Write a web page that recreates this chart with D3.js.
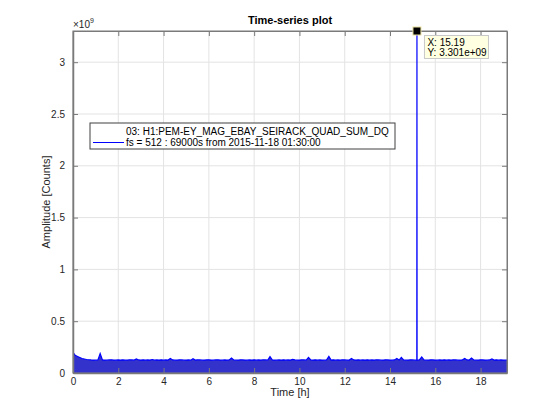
<!DOCTYPE html>
<html>
<head>
<meta charset="utf-8">
<script src="https://cdn.jsdelivr.net/npm/d3@7"></script>
<style>
  body { margin: 0; background: #fff; }
  svg { font-family: "Liberation Sans", Arial, sans-serif; }
</style>
</head>
<body>
<svg id="chart" width="560" height="420"></svg>
<script>
// amplitude envelope, units of 1e9 counts, one value every 0.1 h
const sampleStep = 0.1;
const envelope = [
  0.20,0.17,0.16,0.15,0.14,0.135,0.13,0.128,0.126,0.125,
  0.124,0.126,0.187,0.127,0.125,0.124,0.126,0.128,0.125,0.124,
  0.126,0.125,0.127,0.124,0.125,0.128,0.126,0.124,0.135,0.126,
  0.125,0.127,0.124,0.126,0.125,0.13,0.124,0.126,0.125,0.127,
  0.124,0.126,0.125,0.14,0.126,0.124,0.125,0.127,0.126,0.124,
  0.125,0.126,0.124,0.138,0.125,0.127,0.126,0.124,0.125,0.126,
  0.127,0.125,0.124,0.126,0.128,0.125,0.124,0.126,0.125,0.127,
  0.145,0.126,0.124,0.125,0.127,0.126,0.125,0.124,0.126,0.125,
  0.127,0.124,0.126,0.125,0.128,0.126,0.124,0.158,0.126,0.125,
  0.124,0.126,0.125,0.127,0.124,0.126,0.125,0.132,0.126,0.124,
  0.125,0.127,0.126,0.124,0.15,0.126,0.125,0.127,0.124,0.126,
  0.125,0.124,0.126,0.16,0.125,0.127,0.124,0.126,0.125,0.128,
  0.126,0.124,0.125,0.14,0.126,0.125,0.127,0.124,0.126,0.125,
  0.127,0.124,0.126,0.125,0.128,0.126,0.124,0.125,0.127,0.126,
  0.125,0.124,0.126,0.14,0.125,0.15,0.126,0.124,0.125,0.127,
  0.126,0.124,0.125,0.127,0.155,0.126,0.124,0.125,0.127,0.126,
  0.125,0.124,0.126,0.125,0.127,0.124,0.126,0.125,0.128,0.126,
  0.124,0.125,0.127,0.14,0.126,0.125,0.145,0.126,0.124,0.125,
  0.127,0.126,0.125,0.124,0.126,0.135,0.125,0.127,0.124,0.126,
  0.125,0.124,0.125
];
const spikeTimes = [15.185, 15.19, 15.195];
const spikeValues = [0.125, 3.301, 0.125];
const xTicks = [0, 2, 4, 6, 8, 10, 12, 14, 16, 18];
const yTicks = [0, 0.5, 1, 1.5, 2, 2.5, 3];
const durationHours = 69000 / 3600;
const yMax = 3.301;
const legendLines = ["03: H1:PEM-EY_MAG_EBAY_SEIRACK_QUAD_SUM_DQ", "fs = 512 : 69000s from 2015-11-18 01:30:00"];
const tipLines = ["X: 15.19", "Y: 3.301e+09"];

const margin = { top: 31, right: 53, bottom: 47, left: 73 },
    width = 560 - margin.left - margin.right,
    height = 420 - margin.top - margin.bottom;

const axisColor = "#7a7a7a", textColor = "#262626", lineColor = "#0000ff";

const svg = d3.select("#chart");
const g = svg.append("g").attr("transform", "translate(" + margin.left + "," + margin.top + ")");

const x = d3.scaleLinear().domain([0, durationHours]).range([0, width]);
const y = d3.scaleLinear().domain([0, yMax]).range([height, 0]);

// merge envelope and spike into one series
let series = envelope.map((v, i) => ({ t: i * sampleStep, v: v }))
    .filter(d => d.t < spikeTimes[0] || d.t > spikeTimes[spikeTimes.length - 1]);
spikeTimes.forEach((t, i) => series.push({ t: t, v: spikeValues[i] }));
series.sort((a, b) => a.t - b.t);

g.append("clipPath").attr("id", "clip")
    .append("rect").attr("width", width).attr("height", height);

// grid
g.append("g").selectAll("line").data(xTicks).enter().append("line")
    .attr("x1", d => x(d)).attr("x2", d => x(d))
    .attr("y1", 0).attr("y2", height)
    .attr("stroke", "#e3e3e3").attr("stroke-width", 1);
g.append("g").selectAll("line").data(yTicks).enter().append("line")
    .attr("x1", 0).attr("x2", width)
    .attr("y1", d => y(d)).attr("y2", d => y(d))
    .attr("stroke", "#e3e3e3").attr("stroke-width", 1);

// data
const plot = g.append("g").attr("clip-path", "url(#clip)");
plot.append("path")
    .datum(series)
    .attr("fill", "#3333cc")
    .attr("d", d3.area().x(d => x(d.t)).y0(y(0)).y1(d => y(d.v)));
plot.append("path")
    .datum(series)
    .attr("fill", "none")
    .attr("stroke", lineColor)
    .attr("stroke-width", 1.2)
    .attr("d", d3.line().x(d => x(d.t)).y(d => y(d.v)));

// axes: box with inward ticks
const xAxis = d3.axisBottom(x).tickValues(xTicks).tickSizeInner(-5).tickSizeOuter(0).tickPadding(5);
const yAxis = d3.axisLeft(y).tickValues(yTicks).tickSizeInner(-5).tickSizeOuter(0).tickPadding(8)
    .tickFormat(d3.format("~g"));

const gx = g.append("g").attr("transform", "translate(0," + height + ")").call(xAxis);
const gy = g.append("g").call(yAxis);
g.append("g").call(d3.axisTop(x).tickValues(xTicks).tickSizeInner(-5).tickSizeOuter(0).tickFormat(""));
g.append("g").attr("transform", "translate(" + width + ",0)")
    .call(d3.axisRight(y).tickValues(yTicks).tickSizeInner(-5).tickSizeOuter(0).tickFormat(""));

g.selectAll(".domain").attr("stroke", axisColor);
g.selectAll(".tick line").attr("stroke", axisColor);
g.selectAll(".tick text").attr("fill", textColor).style("font-size", "10px");
g.append("rect").attr("width", width).attr("height", height)
    .attr("fill", "none").attr("stroke", axisColor).attr("stroke-width", 1);
gx.select(".domain").attr("stroke-width", 1.5);
gy.select(".domain").attr("stroke-width", 1.5);

// exponent label
const expo = svg.append("text").attr("x", margin.left).attr("y", margin.top - 3)
    .attr("fill", textColor).style("font-size", "10px");
expo.append("tspan").text("\u00d710");
expo.append("tspan").attr("dy", -5).style("font-size", "7px").text("9");

// titles
svg.append("text").attr("x", margin.left + width / 2).attr("y", 24)
    .attr("text-anchor", "middle").attr("fill", "#000")
    .style("font-size", "11px").style("font-weight", "bold").text("Time-series plot");
svg.append("text").attr("x", margin.left + width / 2).attr("y", height + margin.top + 23)
    .attr("text-anchor", "middle").attr("fill", textColor)
    .style("font-size", "11px").text("Time [h]");
svg.append("text").attr("transform", "translate(50," + (margin.top + height / 2) + ") rotate(-90)")
    .attr("text-anchor", "middle").attr("fill", textColor)
    .style("font-size", "11px").text("Amplitude [Counts]");

// legend
const lg = svg.append("g").attr("transform", "translate(90,123)");
lg.append("rect").attr("width", 305).attr("height", 26)
    .attr("fill", "#fff").attr("stroke", "#404040").attr("stroke-width", 1);
lg.append("line").attr("x1", 3).attr("x2", 34).attr("y1", 19.5).attr("y2", 19.5)
    .attr("stroke", lineColor).attr("stroke-width", 1);
lg.selectAll("text.leg").data(legendLines).enter().append("text")
    .attr("x", 36).attr("y", (d, i) => 12 + i * 11)
    .attr("fill", "#000").style("font-size", "10px").text(d => d);

// data tip
const px = x(spikeTimes[1]), py = y(spikeValues[1]);
g.append("rect").attr("x", px - 4).attr("y", py - 4).attr("width", 8).attr("height", 8)
    .attr("fill", "#000").attr("stroke", "#e8e0a0").attr("stroke-width", 1);
const tip = g.append("g").attr("transform", "translate(" + (px + 7.5) + "," + (py + 4.5) + ")");
tip.append("rect").attr("width", 64).attr("height", 23)
    .attr("fill", "#ffffe1").attr("stroke", "#c8c8c8");
tip.selectAll("text").data(tipLines).enter().append("text")
    .attr("x", 3).attr("y", (d, i) => 10 + i * 10)
    .attr("fill", "#000").style("font-size", "10px").text(d => d);
</script>
</body>
</html>
